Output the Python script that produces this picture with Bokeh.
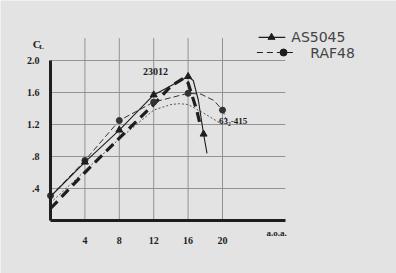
from bokeh.plotting import figure
from bokeh.models import LinearAxis, FixedTicker, Range1d
from bokeh.core.properties import value
from bokeh.embed import file_html
from bokeh.resources import INLINE

# ---- data (angle of attack in degrees, lift coefficient) ----
x_ticks = [4, 8, 12, 16, 20]
x_tick_labels = ["4", "8", "12", "16", "20"]
y_ticks = [0.4, 0.8, 1.2, 1.6, 2.0]
y_tick_labels = [".4", ".8", "1.2", "1.6", "2.0"]

as5045_alpha = [0, 4, 8, 12, 16, 16.6, 17.2, 17.8, 18.2]
as5045_cl = [0.30, 0.73, 1.13, 1.57, 1.80, 1.75, 1.50, 1.08, 0.84]
as5045_mk_alpha = [4, 8, 12, 16, 17.8]
as5045_mk_cl = [0.73, 1.13, 1.57, 1.80, 1.08]

raf48_alpha = [0, 4, 8, 12, 16, 17.5, 19, 20, 20.5]
raf48_cl = [0.30, 0.75, 1.25, 1.48, 1.59, 1.58, 1.50, 1.38, 1.25]
raf48_mk_alpha = [0, 4, 8, 12, 16, 20]
raf48_mk_cl = [0.31, 0.75, 1.25, 1.48, 1.59, 1.38]

naca23012_alpha = [0, 4, 8, 12, 14, 15.5, 16, 17, 17.4]
naca23012_cl = [0.15, 0.60, 1.03, 1.45, 1.68, 1.78, 1.72, 1.38, 1.20]

naca632415_alpha = [0, 4, 8, 12, 14, 15, 16, 18, 20]
naca632415_cl = [0.22, 0.62, 1.02, 1.38, 1.45, 1.46, 1.45, 1.33, 1.20]

INK = "#1e1e1e"
BG = "#e3e3e3"
SERIF_NAME = "Liberation Serif"
SERIF = value(SERIF_NAME)
HAND = value("DejaVu Sans")

p = figure(width=396, height=273, output_backend="svg", toolbar_location=None,
           x_range=Range1d(-50 / 8.6, 346 / 8.6), y_range=Range1d(-53 / 80, 220 / 80),
           min_border=0, outline_line_color=None,
           background_fill_color=BG, border_fill_color=BG)
p.xaxis.visible = False
p.yaxis.visible = False
p.xgrid.visible = False
p.ygrid.visible = False

# grid
p.segment(x0=x_ticks, y0=[0] * len(x_ticks), x1=x_ticks, y1=[2.28] * len(x_ticks),
          line_color="#8a8a8a", line_width=0.9)
p.segment(x0=[0] * len(y_ticks), y0=y_ticks, x1=[27.3] * len(y_ticks), y1=y_ticks,
          line_color="#8a8a8a", line_width=0.9)

# axes
xa = LinearAxis(fixed_location=0, bounds=(0, 27.3),
                ticker=FixedTicker(ticks=x_ticks),
                major_label_overrides=dict(zip(x_ticks, x_tick_labels)),
                axis_line_width=3, axis_line_color=INK,
                major_tick_line_color=None, minor_tick_line_color=None,
                major_label_standoff=10, major_label_text_font=SERIF_NAME,
                major_label_text_font_size="10px", major_label_text_font_style="bold",
                major_label_text_color=INK)
ya = LinearAxis(fixed_location=0, bounds=(0, 2.0),
                ticker=FixedTicker(ticks=y_ticks),
                major_label_overrides=dict(zip(y_ticks, y_tick_labels)),
                axis_line_width=3, axis_line_color=INK,
                major_tick_line_color=None, minor_tick_line_color=None,
                major_label_standoff=5, major_label_text_font=SERIF_NAME,
                major_label_text_font_size="10px", major_label_text_font_style="bold",
                major_label_text_color=INK)
p.add_layout(xa, "below")
p.add_layout(ya, "left")

# curves
p.line(naca632415_alpha, naca632415_cl, line_color="#555555", line_width=1, line_dash="2 2")
p.line(naca23012_alpha, naca23012_cl, line_color=INK, line_width=3.2, line_dash="10 6")
p.line(raf48_alpha, raf48_cl, line_color="#333333", line_width=1.0, line_dash="6 3")
p.scatter(raf48_mk_alpha, raf48_mk_cl, marker="circle", size=6, color="#333333")
p.line(as5045_alpha, as5045_cl, line_color=INK, line_width=1.1)
p.scatter(as5045_mk_alpha, as5045_mk_cl, marker="triangle", size=7, color=INK)

# annotations
p.text(x=[12.2], y=[1.82], text=["23012"], text_font=SERIF, text_font_style="bold",
       text_font_size="10px", text_color=INK, text_align="center", text_baseline="bottom")
p.text(x=[19.6], y=[1.24], text=["63₂-415"], text_font=SERIF, text_font_style="bold",
       text_font_size="9px", text_color=INK, text_align="left", text_baseline="middle")
p.text(x=[26.3], y=[-0.16], text=["a.o.a."], text_font=SERIF, text_font_style="bold",
       text_font_size="9px", text_color=INK, text_align="center", text_baseline="middle")
p.text(x=[-1.6], y=[2.21], text=["C"], text_font=SERIF, text_font_style="bold",
       text_font_size="11px", text_color=INK, text_align="center", text_baseline="middle")
p.text(x=[-1.05], y=[2.17], text=["L"], text_font=SERIF, text_font_style="bold",
       text_font_size="7px", text_color=INK, text_align="center", text_baseline="middle")

# hand-drawn legend
p.line([24.2, 27.3], [2.29, 2.29], line_color=INK, line_width=1.2)
p.scatter([25.7], [2.29], marker="triangle", size=7, color=INK)
p.text(x=[28.0], y=[2.29], text=["AS5045"], text_font=HAND, text_font_size="14px",
       text_color="#444444", text_align="left", text_baseline="middle")
p.line([24.0, 28.3], [2.10, 2.10], line_color=INK, line_width=1.2, line_dash="6 4")
p.scatter([27.1], [2.10], marker="circle", size=7, color=INK)
p.text(x=[30.2], y=[2.10], text=["RAF48"], text_font=HAND, text_font_size="14px",
       text_color="#444444", text_align="left", text_baseline="middle")

open("out.html", "w").write(file_html(p, INLINE))
